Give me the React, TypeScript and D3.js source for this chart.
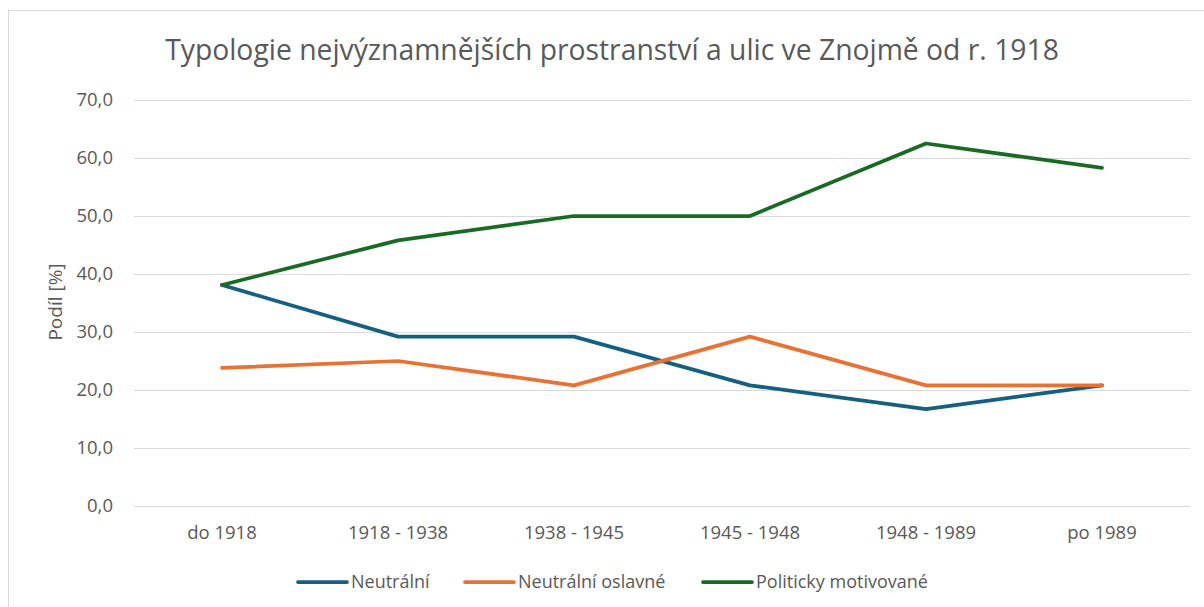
import React from 'react';
import * as d3 from 'd3';

const categories = ['do 1918', '1918 - 1938', '1938 - 1945', '1945 - 1948', '1948 - 1989', 'po 1989'];
const neutralni = [38.1, 29.2, 29.2, 20.8, 16.7, 20.8];
const neutralniOslavne = [23.8, 25.0, 20.8, 29.2, 20.8, 20.8];
const politicky = [38.1, 45.8, 50.0, 50.0, 62.5, 58.3];
const yTicks = [0, 10, 20, 30, 40, 50, 60, 70];

const series = [
  { name: 'Neutrální', values: neutralni, color: '#156082' },
  { name: 'Neutrální oslavné', values: neutralniOslavne, color: '#E97132' },
  { name: 'Politicky motivované', values: politicky, color: '#196B24' },
];

const W = 1204;
const H = 607;
const plot = { left: 134, right: 1190, top: 100, bottom: 506 };
const font = '"Open Sans", "Noto Sans", sans-serif';
const textColor = '#595959';
const legendX = [298, 465, 703];

export default function App() {
  const x = d3.scaleBand<string>().domain(categories).range([plot.left, plot.right]);
  const y = d3.scaleLinear().domain([0, 70]).range([plot.bottom, plot.top]);
  const line = d3
    .line<number>()
    .x((_, i) => (x(categories[i]) ?? 0) + x.bandwidth() / 2)
    .y((d) => y(d));

  return (
    <div style={{ position: 'fixed', left: 0, top: 0 }}>
      <svg width={W} height={H} style={{ display: 'block', background: '#fff' }}>
        <rect x={8.5} y={10.5} width={1300} height={700} fill="#fff" stroke="#d9d9d9" strokeWidth={1} />

        <text x={612} y={60} textAnchor="middle" fontFamily={font} fontSize={28.3} fill={textColor}>
          Typologie nejvýznamnějších prostranství a ulic ve Znojmě od r. 1918
        </text>

        {/* grid + y labels */}
        {yTicks.map((t) => (
          <g key={`y-${t}`}>
            <line x1={plot.left} x2={plot.right} y1={Math.round(y(t)) + 0.5} y2={Math.round(y(t)) + 0.5} stroke="#d9d9d9" strokeWidth={1} />
            <text x={113} y={y(t)} dy="0.35em" textAnchor="end" fontFamily={font} fontSize={18.5} fill={textColor}>
              {d3.format('.1f')(t).replace('.', ',')}
            </text>
          </g>
        ))}

        <text
          transform="translate(62,302) rotate(-90)"
          textAnchor="middle"
          fontFamily={font}
          fontSize={19}
          fill={textColor}
        >
          Podíl [%]
        </text>

        {/* x labels */}
        {categories.map((c) => (
          <text
            key={`x-${c}`}
            x={(x(c) ?? 0) + x.bandwidth() / 2}
            y={533}
            dy="0.35em"
            textAnchor="middle"
            fontFamily={font}
            fontSize={18.5}
            fill={textColor}
          >
            {c}
          </text>
        ))}

        {/* lines */}
        {series.map((s) => (
          <path
            key={s.name}
            d={line(s.values) ?? ''}
            fill="none"
            stroke={s.color}
            strokeWidth={3.75}
            strokeLinejoin="round"
            strokeLinecap="round"
          />
        ))}

        {/* legend */}
        {series.map((s, i) => (
          <g key={`lg-${s.name}`} transform={`translate(${legendX[i]},582)`}>
            <line x1={0} x2={49} y1={0} y2={0} stroke={s.color} strokeWidth={3.75} strokeLinecap="round" />
            <text x={53} y={0} dy="0.35em" fontFamily={font} fontSize={18} fill={textColor}>
              {s.name}
            </text>
          </g>
        ))}
      </svg>
    </div>
  );
}
